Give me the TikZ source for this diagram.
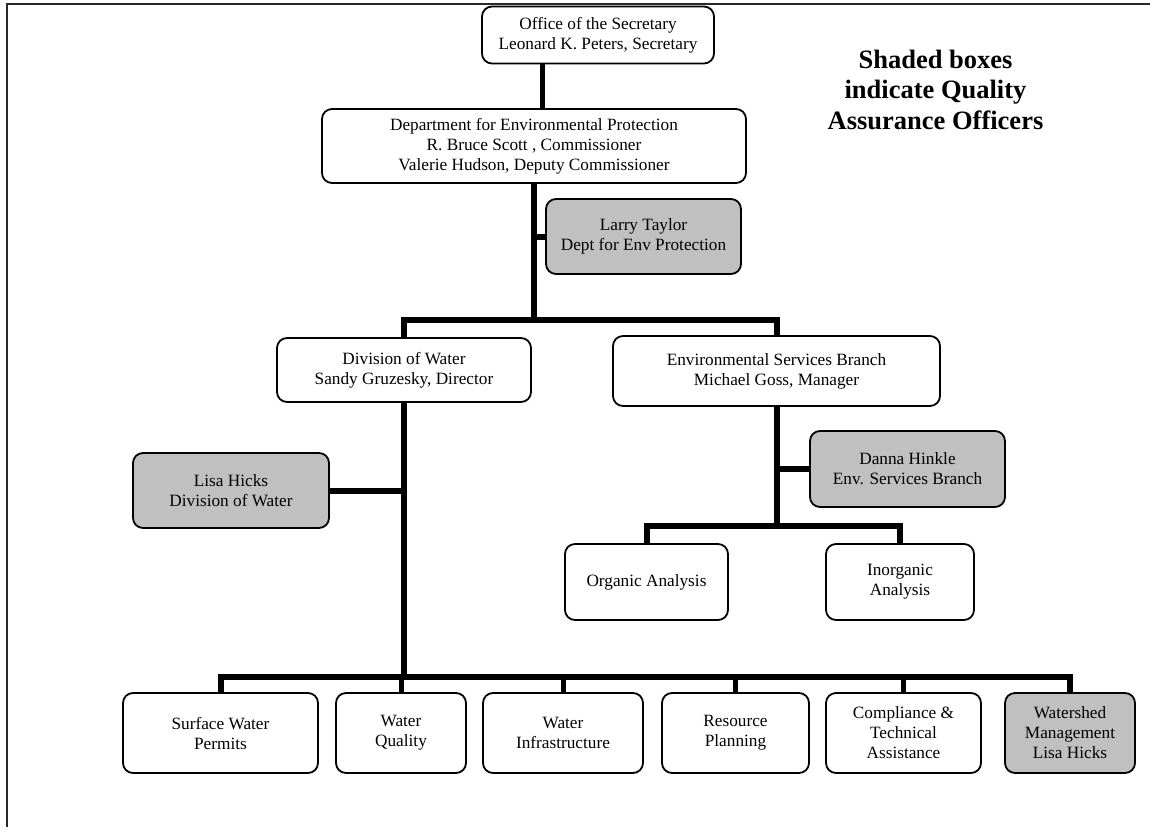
\documentclass[tikz,border=0pt]{standalone}
\usepackage{fontspec}
\setmainfont{Liberation Serif}
\usepackage{xcolor}
\usepackage{tikz}
\usetikzlibrary{calc}
\definecolor{qagray}{RGB}{192,192,192}
\definecolor{framegray}{RGB}{40,40,40}

\begin{document}
\begin{tikzpicture}[
  x=1pt, y=-1pt,
  font=\fontsize{17.25}{20}\selectfont,
  box/.style={draw, rounded corners=10pt, line width=1.8pt, align=center, inner sep=0pt, fill=white},
  qa/.style={box, fill=qagray},
  low/.style={box, minimum height=80},
  link/.style={line width=6pt},
  note/.style={align=center, inner sep=0pt, font=\fontsize{26.5}{30.5}\selectfont\bfseries}
]
\useasboundingbox (0,0) rectangle (1150,827);
% page frame
\draw[line width=2pt, framegray] (7,827) -- (7,4) -- (1150,4);

% top levels
\node[box, minimum width=232, minimum height=57] (sec) at (598,35) {Office of the Secretary\\Leonard K. Peters, Secretary};
\node[box, minimum width=424, minimum height=74] (dep) at (534,146) {Department for Environmental Protection\\R. Bruce Scott , Commissioner\\Valerie Hudson, Deputy Commissioner};
\node[qa, minimum width=195, minimum height=75] (larry) at (643.5,236.5) {Larry Taylor\\Dept for Env Protection};
\node[note] (legend) at (935.5,89.5) {Shaded boxes\\indicate Quality\\Assurance Officers};

% divisions
\node[box, minimum width=254, minimum height=64] (dow) at (404,370) {Division of Water\\Sandy Gruzesky, Director};
\node[box, minimum width=327, minimum height=70] (esb) at (776.5,371) {Environmental Services Branch\\Michael Goss, Manager};
\node[qa, minimum width=196, minimum height=75] (lisa) at (231,490.5) {Lisa Hicks\\Division of Water};
\node[qa, minimum width=195, minimum height=76] (danna) at (907.5,469) {Danna Hinkle\\Env. Services Branch};
\node[box, minimum width=163, minimum height=76] (org) at (646.5,582) {Organic Analysis};
\node[box, minimum width=148, minimum height=76] (inorg) at (900,582) {Inorganic\\Analysis};

% water sections
\node[low, minimum width=195] (swp) at (220.5,733) {Surface Water\\Permits};
\node[low, minimum width=130] (wq)  at (401,733) {Water\\Quality};
\node[low, minimum width=160] (wi)  at (563,733) {Water\\Infrastructure};
\node[low, minimum width=147] (rp)  at (735.5,733) {Resource\\Planning};
\node[low, minimum width=155] (cta) at (903.5,733) {Compliance \&\\Technical\\Assistance};
\node[low, qa, minimum width=130] (wm) at (1070,733) {Watershed\\Management\\Lisa Hicks};

% junctions
\coordinate (secdrop) at (542,0);
\coordinate (split1) at (534,320);
\coordinate (split2) at (404,677);
\coordinate (split3) at (776.5,526);

% connectors
\draw[link, line width=5pt] (sec.south -| secdrop) -- (dep.north -| secdrop);
\draw[link] (dep.south) -- (split1);
\draw[link] (larry.west) -- (larry.west -| dep.south);
\draw[link] (dow.north) |- (split1) -| (esb.north);
\draw[link] (dow.south) -- (split2);
\draw[link] (lisa.east) -- (lisa.east -| dow.south);
\draw[link] (swp.north) |- (split2) -| (wm.north);
\foreach \n in {wq,wi,rp,cta}
  \draw[link, line width=5pt] (\n.north) -- (\n.north |- split2);
\draw[link] (esb.south) -- (split3);
\draw[link] (danna.west) -- (danna.west -| esb.south);
\draw[link] (org.north) |- (split3) -| (inorg.north);
\end{tikzpicture}
\end{document}
